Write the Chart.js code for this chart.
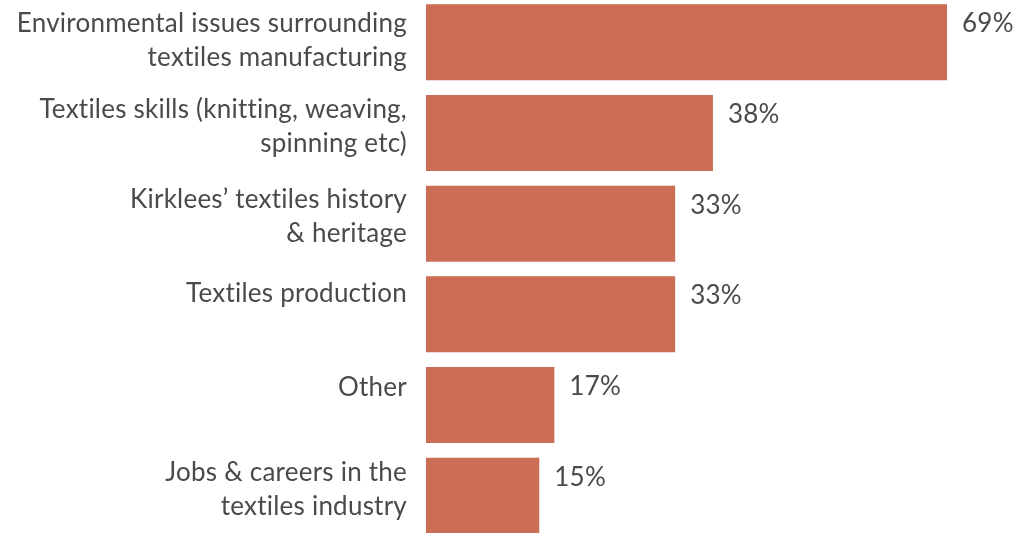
<!DOCTYPE html>
<html>
<head>
<meta charset="utf-8">
<script src="https://cdn.jsdelivr.net/npm/chart.js@4"></script>
<style>
  html, body { margin: 0; padding: 0; background: #fff; overflow: hidden; }
  #wrap { position: absolute; left: 0; top: -3px; width: 1021px; height: 544px; }
</style>
</head>
<body>
<div id="wrap"><canvas id="chart"></canvas></div>
<script>
// topics of interest, share of respondents (%)
const categories = [
  ['Environmental issues surrounding', 'textiles manufacturing'],
  ['Textiles skills (knitting, weaving,', 'spinning etc)'],
  ['Kirklees\u2019 textiles history', '& heritage'],
  ['Textiles production'],
  ['Other'],
  ['Jobs & careers in the', 'textiles industry']
];
const values = [69, 38, 33, 33, 17, 15];

const FONT = '26px Lato';
const TEXT = '#4a4a4a';
// baseline of the first label line, measured down from each bar's top edge
const labelDrop = [28, 23, 22, 26, 29, 23];

// category names to the left of each bar, value to the right
const barLabels = {
  id: 'barLabels',
  afterDatasetsDraw(chart) {
    const ctx = chart.ctx;
    const meta = chart.getDatasetMeta(0);
    ctx.save();
    ctx.font = FONT;
    ctx.fillStyle = TEXT;
    ctx.letterSpacing = '0.23px';
    ctx.textBaseline = 'alphabetic';
    meta.data.forEach((bar, i) => {
      const top = bar.y - bar.height / 2;
      ctx.textAlign = 'right';
      categories[i].forEach((line, j) => {
        ctx.fillText(line, bar.base - 19, top + labelDrop[i] + j * 34);
      });
      ctx.textAlign = 'left';
      ctx.fillText(values[i] + '%', bar.x + 15, top + 28);
    });
    ctx.restore();
  }
};

function draw() {
  new Chart(document.getElementById('chart'), {
    type: 'bar',
    data: {
      labels: categories.map(c => c.join(' ')),
      datasets: [{
        data: values,
        backgroundColor: '#cc6d55',
        barPercentage: 1,
        categoryPercentage: 0.839
      }]
    },
    options: {
      indexAxis: 'y',
      responsive: true,
      maintainAspectRatio: false,
      animation: false,
      layout: { padding: { left: 426, right: 6, top: 0, bottom: 0 } },
      scales: {
        x: { min: 0, max: 78, display: false },
        y: { display: false }
      },
      plugins: {
        legend: { display: false },
        tooltip: { enabled: false }
      }
    },
    plugins: [barLabels]
  });
}

document.fonts.load(FONT).then(draw, draw);
</script>
</body>
</html>
